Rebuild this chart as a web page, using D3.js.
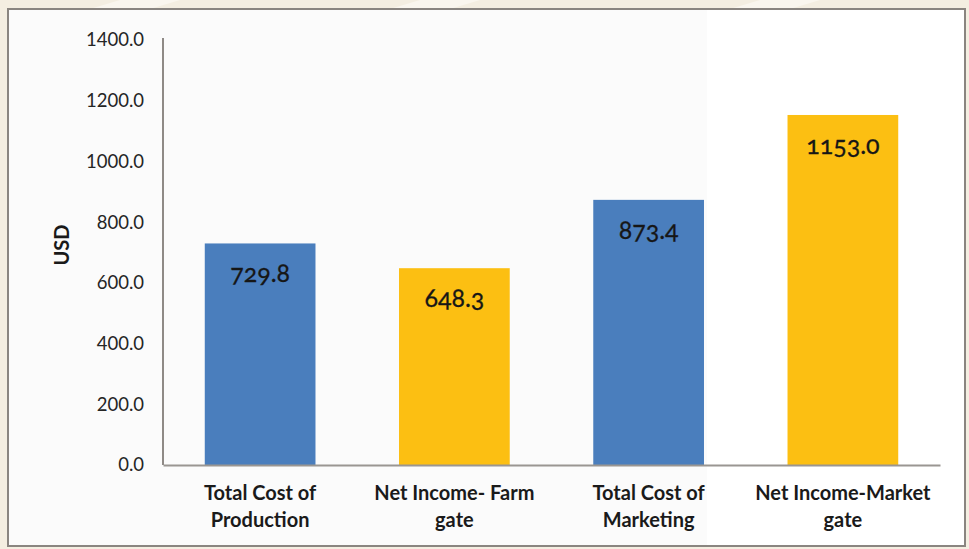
<!DOCTYPE html>
<html>
<head>
<meta charset="utf-8">
<script src="https://cdn.jsdelivr.net/npm/d3@7"></script>
<style>
  html, body { margin: 0; padding: 0; background: #f4eee1; }
  svg { display: block; }
</style>
</head>
<body>
<svg id="chart" width="969" height="549"></svg>
<script>
// Cost and income per category (USD)
const categories = [
  ["Total Cost of", "Production"],
  ["Net Income- Farm", "gate"],
  ["Total Cost of", "Marketing"],
  ["Net Income-Market", "gate"]
];
const values = [729.8, 648.3, 873.4, 1153.0];
const barColors = ["#4a7ebd", "#fcbf12", "#4a7ebd", "#fcbf12"];
const yTicks = [0, 200, 400, 600, 800, 1000, 1200, 1400];
const yLabel = "USD";

const svg = d3.select("#chart");
const W = 969, H = 549;

// page backdrop with soft diagonal streaks
svg.append("rect").attr("width", W).attr("height", H).attr("fill", "#f4eee1");
const streaks = [[120, 60], [420, 60], [760, 60]];
streaks.forEach(([x, w]) => {
  svg.append("polygon")
    .attr("points", `${x},0 ${x + w},0 ${x + w - 40},12 ${x - 40},12`)
    .attr("fill", "#faf6ee");
});

// chart frame
const frame = { x: 8, y: 9, w: 957, h: 537 };
svg.append("rect")
  .attr("x", frame.x).attr("y", frame.y).attr("width", frame.w).attr("height", frame.h)
  .attr("fill", "#ffffff");
svg.append("rect")
  .attr("x", frame.x + 1).attr("y", frame.y + 1).attr("width", 698).attr("height", frame.h - 2)
  .attr("fill", "#fbfbfb");
svg.append("rect")
  .attr("x", frame.x).attr("y", frame.y).attr("width", frame.w).attr("height", frame.h)
  .attr("fill", "none").attr("stroke", "#8a8580").attr("stroke-width", 2);

const plot = { left: 163, right: 940, top: 40, bottom: 465 };

const x = d3.scaleBand()
  .domain(d3.range(values.length))
  .range([plot.left, plot.right])
  .paddingInner(0.43)
  .paddingOuter(0.215);

const y = d3.scaleLinear().domain([0, 1400]).range([plot.bottom, plot.top]);

// bars
svg.append("g").selectAll("rect")
  .data(values)
  .join("rect")
  .attr("x", (d, i) => x(i))
  .attr("y", d => y(d))
  .attr("width", x.bandwidth())
  .attr("height", d => y(0) - y(d))
  .attr("fill", (d, i) => barColors[i]);

// value labels inside bar tops
svg.append("g").selectAll("text")
  .data(values)
  .join("text")
  .attr("x", (d, i) => x(i) + x.bandwidth() / 2)
  .attr("y", d => y(d) + 39)
  .attr("text-anchor", "middle")
  .attr("font-family", "Lato, 'Open Sans', sans-serif")
  .attr("font-size", 25)
  .style("font-variant-numeric", "oldstyle-nums")
  .attr("fill", "#161616")
  .attr("stroke", "#161616")
  .attr("stroke-width", 0.3)
  .text(d => d.toFixed(1));

// y axis
const yAxis = d3.axisLeft(y)
  .tickValues(yTicks)
  .tickFormat(d => d.toFixed(1))
  .tickSize(0)
  .tickPadding(19);
const gy = svg.append("g").attr("transform", `translate(${plot.left},0)`).call(yAxis);
gy.select(".domain").attr("stroke", "#8f8a86").attr("stroke-width", 2)
  .attr("d", `M0,${plot.top - 2}V${plot.bottom}`);
gy.selectAll("text")
  .attr("font-family", "Lato, 'Liberation Sans', sans-serif")
  .attr("font-size", 18.5)
  .attr("fill", "#252525");

// x axis baseline
const xAxis = d3.axisBottom(x).tickSize(0).tickFormat("");
const gx = svg.append("g").attr("transform", `translate(0,${plot.bottom})`).call(xAxis);
gx.select(".domain").attr("stroke", "#9a9692").attr("stroke-width", 2);

// category labels
const catG = svg.append("g").selectAll("text")
  .data(categories)
  .join("text")
  .attr("x", (d, i) => x(i) + x.bandwidth() / 2)
  .attr("y", 500)
  .attr("text-anchor", "middle")
  .attr("font-family", "Lato, 'Open Sans', sans-serif")
  .attr("font-weight", "bold")
  .attr("font-size", 20)
  .attr("fill", "#1a1a1a");
catG.selectAll("tspan")
  .data(d => d)
  .join("tspan")
  .attr("x", function () { return d3.select(this.parentNode).attr("x"); })
  .attr("dy", (d, j) => j === 0 ? 0 : 27)
  .text(d => d);

// y axis title
svg.append("text")
  .attr("transform", `translate(69,${245}) rotate(-90)`)
  .attr("text-anchor", "middle")
  .attr("font-family", "Lato, 'Open Sans', sans-serif")
  .attr("font-weight", "bold")
  .attr("font-size", 20)
  .attr("fill", "#1a1a1a")
  .text(yLabel);
</script>
</body>
</html>
